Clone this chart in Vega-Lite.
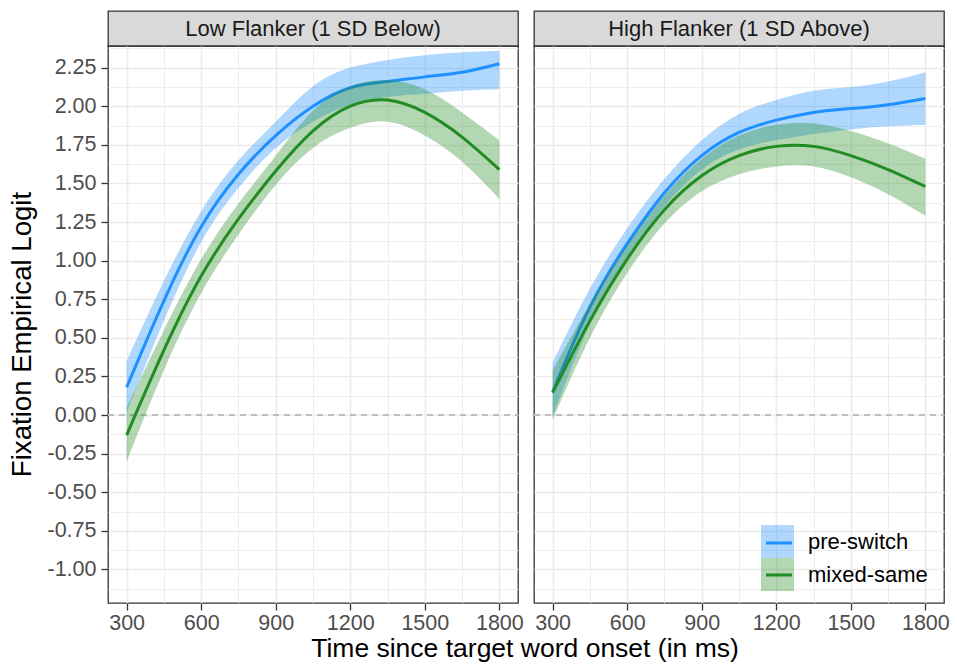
{
  "$schema": "https://vega.github.io/schema/vega-lite/v6.json",
  "background": "white",
  "padding": {"left": 8, "top": 10, "right": 5, "bottom": 5},
  "spacing": 8,
  "datasets": {
    "curves": [
      {"panel":"low","cond":"pre-switch","t":300,"fit":0.18,"lo":0.02,"hi":0.35},
      {"panel":"low","cond":"pre-switch","t":450,"fit":0.74,"lo":0.61,"hi":0.87},
      {"panel":"low","cond":"pre-switch","t":600,"fit":1.22,"lo":1.12,"hi":1.32},
      {"panel":"low","cond":"pre-switch","t":750,"fit":1.56,"lo":1.47,"hi":1.65},
      {"panel":"low","cond":"pre-switch","t":900,"fit":1.81,"lo":1.73,"hi":1.90},
      {"panel":"low","cond":"pre-switch","t":1050,"fit":2.00,"lo":1.90,"hi":2.13},
      {"panel":"low","cond":"pre-switch","t":1200,"fit":2.12,"lo":2.01,"hi":2.25},
      {"panel":"low","cond":"pre-switch","t":1350,"fit":2.16,"lo":2.06,"hi":2.30},
      {"panel":"low","cond":"pre-switch","t":1500,"fit":2.19,"lo":2.08,"hi":2.33},
      {"panel":"low","cond":"pre-switch","t":1650,"fit":2.22,"lo":2.10,"hi":2.35},
      {"panel":"low","cond":"pre-switch","t":1800,"fit":2.275,"lo":2.11,"hi":2.36},
      {"panel":"low","cond":"mixed-same","t":300,"fit":-0.13,"lo":-0.30,"hi":0.05},
      {"panel":"low","cond":"mixed-same","t":450,"fit":0.42,"lo":0.29,"hi":0.55},
      {"panel":"low","cond":"mixed-same","t":600,"fit":0.90,"lo":0.79,"hi":1.01},
      {"panel":"low","cond":"mixed-same","t":750,"fit":1.27,"lo":1.17,"hi":1.37},
      {"panel":"low","cond":"mixed-same","t":900,"fit":1.58,"lo":1.49,"hi":1.68},
      {"panel":"low","cond":"mixed-same","t":1050,"fit":1.84,"lo":1.73,"hi":1.97},
      {"panel":"low","cond":"mixed-same","t":1200,"fit":2.00,"lo":1.86,"hi":2.13},
      {"panel":"low","cond":"mixed-same","t":1350,"fit":2.04,"lo":1.90,"hi":2.17},
      {"panel":"low","cond":"mixed-same","t":1500,"fit":1.96,"lo":1.81,"hi":2.11},
      {"panel":"low","cond":"mixed-same","t":1650,"fit":1.80,"lo":1.64,"hi":1.96},
      {"panel":"low","cond":"mixed-same","t":1800,"fit":1.59,"lo":1.40,"hi":1.78},
      {"panel":"high","cond":"pre-switch","t":300,"fit":0.15,"lo":-0.01,"hi":0.34},
      {"panel":"high","cond":"pre-switch","t":450,"fit":0.70,"lo":0.59,"hi":0.82},
      {"panel":"high","cond":"pre-switch","t":600,"fit":1.11,"lo":1.02,"hi":1.21},
      {"panel":"high","cond":"pre-switch","t":750,"fit":1.44,"lo":1.35,"hi":1.53},
      {"panel":"high","cond":"pre-switch","t":900,"fit":1.68,"lo":1.59,"hi":1.78},
      {"panel":"high","cond":"pre-switch","t":1050,"fit":1.83,"lo":1.72,"hi":1.95},
      {"panel":"high","cond":"pre-switch","t":1200,"fit":1.91,"lo":1.78,"hi":2.04},
      {"panel":"high","cond":"pre-switch","t":1350,"fit":1.96,"lo":1.82,"hi":2.10},
      {"panel":"high","cond":"pre-switch","t":1500,"fit":1.985,"lo":1.85,"hi":2.125},
      {"panel":"high","cond":"pre-switch","t":1650,"fit":2.01,"lo":1.87,"hi":2.16},
      {"panel":"high","cond":"pre-switch","t":1800,"fit":2.05,"lo":1.88,"hi":2.22},
      {"panel":"high","cond":"mixed-same","t":300,"fit":0.145,"lo":-0.03,"hi":0.29},
      {"panel":"high","cond":"mixed-same","t":450,"fit":0.61,"lo":0.50,"hi":0.72},
      {"panel":"high","cond":"mixed-same","t":600,"fit":1.01,"lo":0.92,"hi":1.10},
      {"panel":"high","cond":"mixed-same","t":750,"fit":1.33,"lo":1.24,"hi":1.42},
      {"panel":"high","cond":"mixed-same","t":900,"fit":1.55,"lo":1.45,"hi":1.66},
      {"panel":"high","cond":"mixed-same","t":1050,"fit":1.68,"lo":1.56,"hi":1.81},
      {"panel":"high","cond":"mixed-same","t":1200,"fit":1.74,"lo":1.61,"hi":1.88},
      {"panel":"high","cond":"mixed-same","t":1350,"fit":1.74,"lo":1.61,"hi":1.89},
      {"panel":"high","cond":"mixed-same","t":1500,"fit":1.68,"lo":1.54,"hi":1.84},
      {"panel":"high","cond":"mixed-same","t":1650,"fit":1.59,"lo":1.43,"hi":1.76},
      {"panel":"high","cond":"mixed-same","t":1800,"fit":1.48,"lo":1.29,"hi":1.66}
    ],
    "strips": [
      {"panel":"low","label":"Low Flanker (1 SD Below)"},
      {"panel":"high","label":"High Flanker (1 SD Above)"}
    ]
  },
  "config": {
    "font": "Liberation Sans",
    "axis": {
      "labelFont": "Liberation Sans",
      "labelFontSize": 21.5,
      "labelColor": "#4d4d4d",
      "tickSize": 7,
      "tickWidth": 1.3,
      "domain": false,
      "gridColor": "#ebebeb",
      "titleFont": "Liberation Sans",
      "titleFontSize": 27.6,
      "titleFontWeight": "normal",
      "titleColor": "#000000"
    },
    "view": {"stroke": "#333333", "strokeWidth": 1.3}
  },
  "title": {
    "text": "Time since target word onset (in ms)",
    "orient": "bottom",
    "anchor": "middle",
    "frame": "group",
    "font": "Liberation Sans",
    "fontSize": 26.5,
    "fontWeight": "normal",
    "color": "#000000",
    "offset": 2,
    "dx": 417
  },
  "resolve": {"scale": {"fill": "shared", "stroke": "shared"}},
  "hconcat": [
    {
      "spacing": 0,
      "bounds": "flush",
      "vconcat": [
        {
          "width": 410,
          "height": 35,
          "data": {"name": "strips"},
          "transform": [{"filter": "datum.panel === 'low'"}],
          "view": {"fill": "#d9d9d9", "stroke": "#333333", "strokeWidth": 1.3},
          "mark": {"type": "text", "font": "Liberation Sans", "fontSize": 22, "color": "#1a1a1a", "baseline": "middle", "align": "center"},
          "encoding": {"text": {"field": "label"}}
        },
        {
          "width": 410,
          "height": 557,
          "data": {"name": "curves"},
          "transform": [{"filter": "datum.panel === 'low'"}],
          "encoding": {
            "x": {
              "field": "t", "type": "quantitative",
              "scale": {"domain": [225, 1875], "nice": false, "zero": false},
              "axis": {
                "title": null,
                "labelPadding": 2,
                "values": [300,450,600,750,900,1050,1200,1350,1500,1650,1800],
                "format": "d",
                "labelExpr": "datum.value % 300 === 0 ? datum.label : ''",
                "tickColor": {"condition": {"test": "datum.value % 300 !== 0", "value": "transparent"}, "value": "#333333"},
                "gridWidth": {"condition": {"test": "datum.value % 300 !== 0", "value": 0.9}, "value": 1.6}
              }
            },
            "y": {
              "field": "fit", "type": "quantitative",
              "scale": {"domain": [-1.217, 2.39], "nice": false, "zero": false},
              "axis": {
                "title": "Fixation Empirical Logit",
                "titlePadding": 10,
                "titleY": 288,
                "labelPadding": 5,
                "values": [-1.125,-1,-0.875,-0.75,-0.625,-0.5,-0.375,-0.25,-0.125,0,0.125,0.25,0.375,0.5,0.625,0.75,0.875,1,1.125,1.25,1.375,1.5,1.625,1.75,1.875,2,2.125,2.25,2.375],
                "labelExpr": "datum.value * 8 % 2 !== 0 ? '' : replace(format(datum.value, '.2f'), '\u2212', '-')",
                "tickColor": {"condition": {"test": "datum.value * 8 % 2 !== 0", "value": "transparent"}, "value": "#333333"},
                "gridWidth": {"condition": {"test": "datum.value * 8 % 2 !== 0", "value": 0.9}, "value": 1.6}
              }
            }
          },
          "layer": [
            {
              "mark": {"type": "rule", "color": "#bebebe", "strokeWidth": 1.3, "strokeDash": [6, 5]},
              "encoding": {
                "x": {"datum": 225, "type": "quantitative"},
                "x2": {"datum": 1875},
                "y": {"datum": 0, "type": "quantitative"}
              }
            },
            {
              "transform": [{"filter": "datum.cond === 'pre-switch'"}],
              "mark": {"type": "area", "fillOpacity": 0.35, "interpolate": "natural"},
              "encoding": {
                "y": {"field": "lo", "type": "quantitative"},
                "y2": {"field": "hi"},
                "fill": {"field": "cond", "type": "nominal", "sort": ["pre-switch", "mixed-same"]}
              }
            },
            {
              "transform": [{"filter": "datum.cond === 'pre-switch'"}],
              "mark": {"type": "line", "strokeWidth": 3, "interpolate": "natural"},
              "encoding": {
                "stroke": {"field": "cond", "type": "nominal"}
              }
            },
            {
              "transform": [{"filter": "datum.cond === 'mixed-same'"}],
              "mark": {"type": "area", "fillOpacity": 0.35, "interpolate": "natural"},
              "encoding": {
                "y": {"field": "lo", "type": "quantitative"},
                "y2": {"field": "hi"},
                "fill": {"field": "cond", "type": "nominal", "sort": ["pre-switch", "mixed-same"]}
              }
            },
            {
              "transform": [{"filter": "datum.cond === 'mixed-same'"}],
              "mark": {"type": "line", "strokeWidth": 3, "interpolate": "natural"},
              "encoding": {
                "stroke": {"field": "cond", "type": "nominal"}
              }
            }
          ]
        }
      ]
    },
    {
      "spacing": 0,
      "bounds": "flush",
      "vconcat": [
        {
          "width": 410,
          "height": 35,
          "data": {"name": "strips"},
          "transform": [{"filter": "datum.panel === 'high'"}],
          "view": {"fill": "#d9d9d9", "stroke": "#333333", "strokeWidth": 1.3},
          "mark": {"type": "text", "font": "Liberation Sans", "fontSize": 22, "color": "#1a1a1a", "baseline": "middle", "align": "center"},
          "encoding": {"text": {"field": "label"}}
        },
        {
          "width": 410,
          "height": 557,
          "data": {"name": "curves"},
          "transform": [{"filter": "datum.panel === 'high'"}],
          "encoding": {
            "x": {
              "field": "t", "type": "quantitative",
              "scale": {"domain": [225, 1875], "nice": false, "zero": false},
              "axis": {
                "title": null,
                "labelPadding": 2,
                "values": [300,450,600,750,900,1050,1200,1350,1500,1650,1800],
                "format": "d",
                "labelExpr": "datum.value % 300 === 0 ? datum.label : ''",
                "tickColor": {"condition": {"test": "datum.value % 300 !== 0", "value": "transparent"}, "value": "#333333"},
                "gridWidth": {"condition": {"test": "datum.value % 300 !== 0", "value": 0.9}, "value": 1.6}
              }
            },
            "y": {
              "field": "fit", "type": "quantitative",
              "scale": {"domain": [-1.217, 2.39], "nice": false, "zero": false},
              "axis": {
                "title": null,
                "labels": false,
                "ticks": false,
                "values": [-1.125,-1,-0.875,-0.75,-0.625,-0.5,-0.375,-0.25,-0.125,0,0.125,0.25,0.375,0.5,0.625,0.75,0.875,1,1.125,1.25,1.375,1.5,1.625,1.75,1.875,2,2.125,2.25,2.375],
                "gridWidth": {"condition": {"test": "datum.value * 8 % 2 !== 0", "value": 0.9}, "value": 1.6}
              }
            }
          },
          "layer": [
            {
              "mark": {"type": "rule", "color": "#bebebe", "strokeWidth": 1.3, "strokeDash": [6, 5]},
              "encoding": {
                "x": {"datum": 225, "type": "quantitative"},
                "x2": {"datum": 1875},
                "y": {"datum": 0, "type": "quantitative"}
              }
            },
            {
              "transform": [{"filter": "datum.cond === 'pre-switch'"}],
              "mark": {"type": "area", "fillOpacity": 0.35, "interpolate": "natural"},
              "encoding": {
                "y": {"field": "lo", "type": "quantitative"},
                "y2": {"field": "hi"},
                "fill": {
                  "field": "cond", "type": "nominal",
                  "sort": ["pre-switch", "mixed-same"],
                  "scale": {"range": ["#1E90FF", "#228B22"]},
                  "legend": {
                    "title": null,
                    "orient": "none",
                    "legendX": 653,
                    "legendY": 514,
                    "symbolType": "square",
                    "symbolSize": 1089,
                    "symbolOpacity": 0.35,
                    "symbolStrokeWidth": 0,
                    "rowPadding": 0,
                    "padding": 0,
                    "labelFont": "Liberation Sans",
                    "labelFontSize": 22,
                    "labelColor": "#000000",
                    "labelOffset": 14
                  }
                }
              }
            },
            {
              "transform": [{"filter": "datum.cond === 'pre-switch'"}],
              "mark": {"type": "line", "strokeWidth": 3, "interpolate": "natural"},
              "encoding": {
                "stroke": {
                  "field": "cond", "type": "nominal",
                  "scale": {"domain": ["pre-switch", "mixed-same"], "range": ["#1E90FF", "#228B22"]},
                  "legend": {
                    "title": null,
                    "orient": "none",
                    "legendX": 656.5,
                    "legendY": 517.5,
                    "symbolType": "stroke",
                    "symbolSize": 676,
                    "symbolStrokeWidth": 3,
                    "rowPadding": 7,
                    "padding": 0,
                    "labelExpr": "''",
                    "labelFontSize": 20
                  }
                }
              }
            },
            {
              "transform": [{"filter": "datum.cond === 'mixed-same'"}],
              "mark": {"type": "area", "fillOpacity": 0.35, "interpolate": "natural"},
              "encoding": {
                "y": {"field": "lo", "type": "quantitative"},
                "y2": {"field": "hi"},
                "fill": {"field": "cond", "type": "nominal", "sort": ["pre-switch", "mixed-same"]}
              }
            },
            {
              "transform": [{"filter": "datum.cond === 'mixed-same'"}],
              "mark": {"type": "line", "strokeWidth": 3, "interpolate": "natural"},
              "encoding": {
                "stroke": {"field": "cond", "type": "nominal"}
              }
            }
          ]
        }
      ]
    }
  ]
}
